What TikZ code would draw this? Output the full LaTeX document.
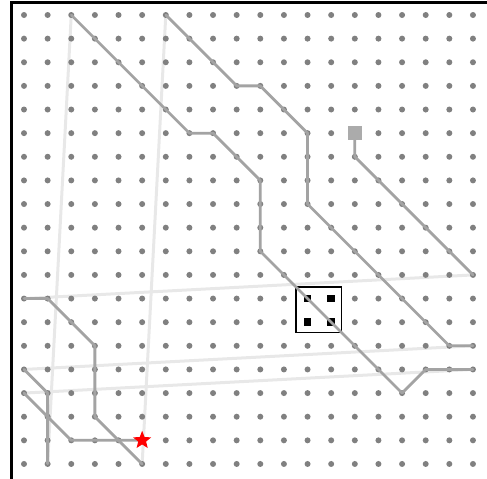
\documentclass[tikz,border=0pt]{standalone}
\usetikzlibrary{shapes.geometric}
\definecolor{dotc}{HTML}{808080}
\definecolor{pathc}{HTML}{A3A3A3}
\definecolor{travc}{HTML}{E8E8E8}
\definecolor{markc}{HTML}{ABABAB}
\begin{document}
\begin{tikzpicture}[x=23.63pt,y=-23.63pt,
  travel/.style={draw=travc,line width=3pt,line cap=round},
  route/.style={draw=pathc,line width=2.8pt,line cap=round,line join=round},
  startmark/.style={rectangle,fill=markc,inner sep=0pt,minimum size=14.6pt},
  endmark/.style={star,star points=5,star point ratio=2.3,fill=red,inner sep=0pt,minimum size=19pt},
  pin/.style={rectangle,fill=black,inner sep=0pt,minimum size=7.5pt},
  frameline/.style={draw=black,line width=3pt}]
\useasboundingbox (-1.0157,-0.635) rectangle (19.594,19.636);
\foreach \i in {0,...,19}{\foreach \j in {0,...,19}{\coordinate (d\i-\j) at (\i,\j);}}
% travel moves
\draw[travel] (d19-11) -- (d0-12);
\draw[travel] (d5-19) -- (d6-0);
\draw[travel] (d19-14) -- (d0-15);
\draw[travel] (d1-19) -- (d2-0);
\draw[travel] (d19-15) -- (d0-16);
% grid dots
\foreach \i in {0,...,19}{\foreach \j in {0,...,19}{\fill[dotc] (d\i-\j) circle (3pt);}}
% component
\draw[black,line width=1.8pt] (11.51,11.51) rectangle (13.44,13.44);
\node[pin] (p1) at (d12-12) {};
\node[pin] (p2) at (d13-12) {};
\node[pin] (p3) at (d12-13) {};
\node[pin] (p4) at (d13-13) {};
% routes
\draw[route] (d14-5) -- (d14-6) -- (d19-11);
\draw[route] (d0-12) -- (d1-12) -- (d3-14) -- (d3-17) -- (d5-19);
\draw[route] (d6-0) -- (d9-3) -- (d10-3) -- (d12-5) -- (d12-8) -- (d18-14) -- (d19-14);
\draw[route] (d0-15) -- (d1-16) -- (d1-19);
\draw[route] (d2-0) -- (d7-5) -- (d8-5) -- (d10-7) -- (d10-10) -- (d16-16) -- (d17-15) -- (d19-15);
\draw[route] (d0-16) -- (d2-18) -- (d5-18);
% markers
\node[startmark] (start) at (d14-5) {};
\node[endmark] (end) at (d5-18) {};
% frame
\draw[frameline] (-0.55,21) -- (-0.55,-0.55) -- (21,-0.55);
\end{tikzpicture}
\end{document}
